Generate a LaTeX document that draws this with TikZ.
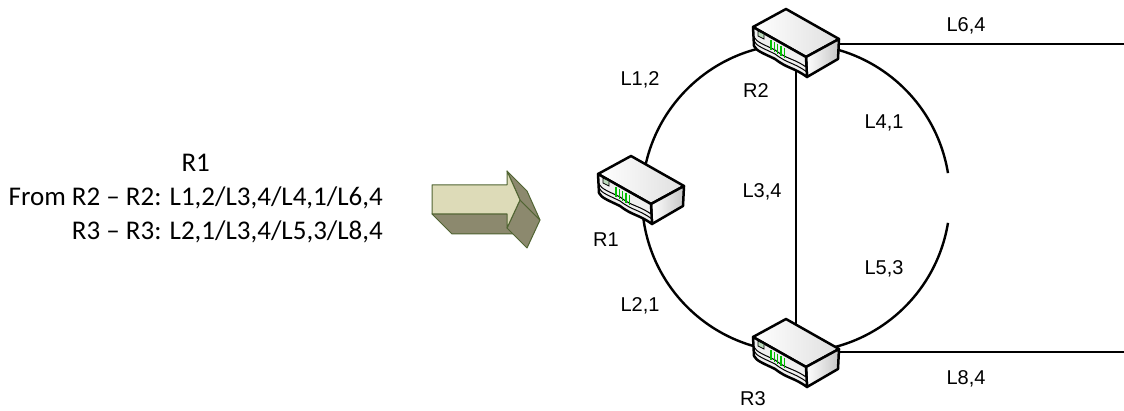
\documentclass[tikz,border=0pt]{standalone}
\usepackage{fontspec}
\usepackage{tikz}
\newfontfamily\labelfont{Liberation Sans}
\newfontfamily\notefont{Carlito}
\definecolor{arrowfront}{RGB}{221,219,184}
\definecolor{arrowside}{RGB}{140,137,110}
\definecolor{arrowedge}{RGB}{80,100,50}

\begin{document}
\begin{tikzpicture}[x=1pt,y=1pt,
  link/.style={line width=2.4pt},
  lbl/.style={inner sep=0pt, text height=14pt, text depth=0pt, font=\labelfont\fontsize{20}{24}\selectfont},
  arrowface/.style={draw=arrowedge, line width=1pt, line join=round},
  router/.pic={
    \draw [line width=2.5pt, line join=round, left color=white, right color=gray!25] (0,0) -- (33,18) -- (86,-12) -- (53,-30) -- cycle;
    \draw [line width=2.5pt, line join=round, left color=white, right color=gray!45] (53,-30) -- (86,-12) -- (85,-32) -- (54,-50) -- cycle;
    \draw [line width=2.5pt, line join=round, fill=gray!12] (0,0) -- (53,-30) -- (54,-50) .. controls (40,-40) and (35,-42) .. (22,-32) .. controls (12,-27) and (3,-24) .. (1,-19) -- cycle;
    \draw [line width=1pt] (54,-45) .. controls (40,-35) and (35,-37) .. (22,-27) .. controls (12,-22) and (3,-19) .. (1,-14);
    \draw [line width=1pt] (53,-40) .. controls (40,-31) and (35,-33) .. (22,-23) .. controls (12,-18) and (3,-15) .. (1,-10);
    \draw [fill=green!30!gray!40, line width=.7pt] (5,-4) -- (11,-7) -- (11,-12) -- (5,-9) -- cycle;
    \foreach \i in {0,...,4}
      \draw [green!75!black, line width=1.3pt] ({18+3.3*\i},{-0.57*(18+3.3*\i)-3}) -- ++(0,-10);
  }]
\useasboundingbox (0,0) rectangle (1124,411);

\node (summary) [anchor=east, inner sep=0pt, font=\notefont\fontsize{27}{34}\selectfont] at (383,212) {
\begin{tabular}{@{}r@{}}
\multicolumn{1}{c}{R1} \\
From R2 – R2: L1,2/L3,4/L4,1/L6,4 \\
R3 – R3: L2,1/L3,4/L5,3/L8,4 \\
\end{tabular}
};

\draw [arrowface, fill=arrowside] (432,197) -- (452,177) -- (527,177) -- (507,197) -- cycle;
\draw [arrowface, fill=arrowside] (507,183) -- (527,163) -- (540,191) -- (520,211) -- cycle;
\draw [arrowface, fill=arrowside] (507,240) -- (527,220) -- (540,191) -- (520,211) -- cycle;
\draw [arrowface, fill=arrowfront] (432,226) -- (507,226) -- (507,240) -- (520,211) -- (507,183) -- (507,197) -- (432,197) -- cycle;

\coordinate (R2) at (796,367);
\coordinate (R1) at (642,213);
\coordinate (R3) at (796,59);
\coordinate (edge) at (1124,0);

\draw [link] (R2) arc [start angle=90, end angle=270, radius=154];
\draw [link] (R2) arc [start angle=90, end angle=9.3, radius=154];
\draw [link] (R3) arc [start angle=-90, end angle=-9.3, radius=154];
\draw [link] (R2) -- (R3);
\draw [link] (R2) -- (R2 -| edge);
\draw [link] (R3) -- (R3 -| edge);

\pic at ([shift={(-43,17)}]R2) {router};
\pic at ([shift={(-44,24)}]R1) {router};
\pic at ([shift={(-43,15)}]R3) {router};

\node (l64) [lbl] at (966,386) {L6,4};
\node (l12) [lbl] at (640,332) {L1,2};
\node (r2) [lbl] at (756,320) {R2};
\node (l41) [lbl] at (884,289) {L4,1};
\node (l34) [lbl] at (762,220) {L3,4};
\node (r1) [lbl] at (606,171) {R1};
\node (l53) [lbl] at (884,143) {L5,3};
\node (l21) [lbl] at (640,106) {L2,1};
\node (l84) [lbl] at (966,33) {L8,4};
\node (r3) [lbl] at (753,12) {R3};
\end{tikzpicture}
\end{document}
